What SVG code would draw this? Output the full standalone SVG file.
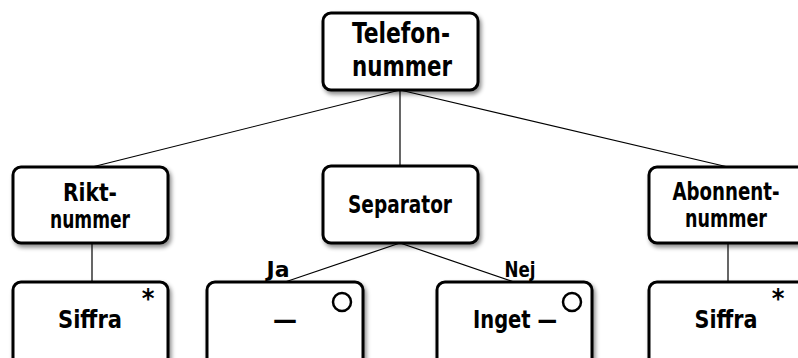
<svg xmlns="http://www.w3.org/2000/svg" width="798" height="358" viewBox="0 0 798 358">
  <defs>
    <filter id="shadow" x="-10%" y="-10%" width="130%" height="140%">
      <feDropShadow dx="2" dy="3" stdDeviation="2" flood-color="#000" flood-opacity="0.45"/>
    </filter>
  </defs>
  <style>
    .box { fill: #fff; stroke: #000; stroke-width: 3; filter: url(#shadow); }
    .edge { stroke: #000; stroke-width: 1.2; fill: none; }
    .opt { fill: none; stroke: #000; stroke-width: 2.5; }
    text { font-family: "DejaVu Sans Condensed", "Liberation Sans", sans-serif; font-weight: bold; fill: #000; text-anchor: middle; }
    .t-big { font-size: 29px; }
    .t-mid { font-size: 25px; }
    .t-lbl { font-size: 21px; }
    .t-star { font-size: 27px; }
  </style>

  <!-- connectors -->
  <g id="connectors">
    <line class="edge" x1="400" y1="90" x2="92" y2="167"/>
    <line class="edge" x1="400" y1="90" x2="400" y2="166"/>
    <line class="edge" x1="400" y1="90" x2="728" y2="167"/>
    <line class="edge" x1="92" y1="243" x2="92" y2="282"/>
    <line class="edge" x1="400" y1="243" x2="285" y2="282"/>
    <line class="edge" x1="400" y1="243" x2="514" y2="282"/>
    <line class="edge" x1="728" y1="243" x2="728" y2="282"/>
    <text class="t-lbl" x="278" y="277" textLength="23" lengthAdjust="spacingAndGlyphs">Ja</text>
    <text class="t-lbl" x="520" y="277" textLength="31" lengthAdjust="spacingAndGlyphs">Nej</text>
  </g>

  <!-- root -->
  <g id="telefonnummer">
    <rect class="box" x="323" y="13" width="155" height="77" rx="8"/>
    <text class="t-big" x="401" y="43" textLength="98" lengthAdjust="spacingAndGlyphs">Telefon-</text>
    <text class="t-big" x="402" y="76" textLength="100" lengthAdjust="spacingAndGlyphs">nummer</text>
  </g>

  <!-- second level -->
  <g id="riktnummer">
    <rect class="box" x="13" y="167" width="155" height="76" rx="8"/>
    <text class="t-mid" x="90" y="201" textLength="54" lengthAdjust="spacingAndGlyphs">Rikt-</text>
    <text class="t-mid" x="90" y="228" textLength="80" lengthAdjust="spacingAndGlyphs">nummer</text>
  </g>
  <g id="separator">
    <rect class="box" x="323" y="166" width="155" height="77" rx="8"/>
    <text class="t-mid" x="400" y="213" textLength="104" lengthAdjust="spacingAndGlyphs">Separator</text>
  </g>
  <g id="abonnentnummer">
    <rect class="box" x="649" y="167" width="158" height="76" rx="8"/>
    <text class="t-mid" x="726" y="200" textLength="107" lengthAdjust="spacingAndGlyphs">Abonnent-</text>
    <text class="t-mid" x="726" y="227" textLength="82" lengthAdjust="spacingAndGlyphs">nummer</text>
  </g>

  <!-- leaves -->
  <g id="siffra-rikt">
    <rect class="box" x="13" y="282" width="155" height="85" rx="8"/>
    <text class="t-mid" x="90" y="328" textLength="64" lengthAdjust="spacingAndGlyphs">Siffra</text>
    <text class="t-star" x="148" y="308">*</text>
  </g>
  <g id="ja">
    <rect class="box" x="207" y="282" width="156" height="85" rx="8"/>
    <text class="t-mid" x="285" y="328" textLength="24" lengthAdjust="spacingAndGlyphs">—</text>
    <circle class="opt" cx="342" cy="302" r="9"/>
  </g>
  <g id="nej">
    <rect class="box" x="437" y="282" width="155" height="85" rx="8"/>
    <text class="t-mid" x="515" y="328" textLength="84" lengthAdjust="spacingAndGlyphs">Inget —</text>
    <circle class="opt" cx="572" cy="302" r="9"/>
  </g>
  <g id="siffra-abonnent">
    <rect class="box" x="649" y="282" width="158" height="85" rx="8"/>
    <text class="t-mid" x="726" y="328" textLength="63" lengthAdjust="spacingAndGlyphs">Siffra</text>
    <text class="t-star" x="778" y="308">*</text>
  </g>
</svg>
